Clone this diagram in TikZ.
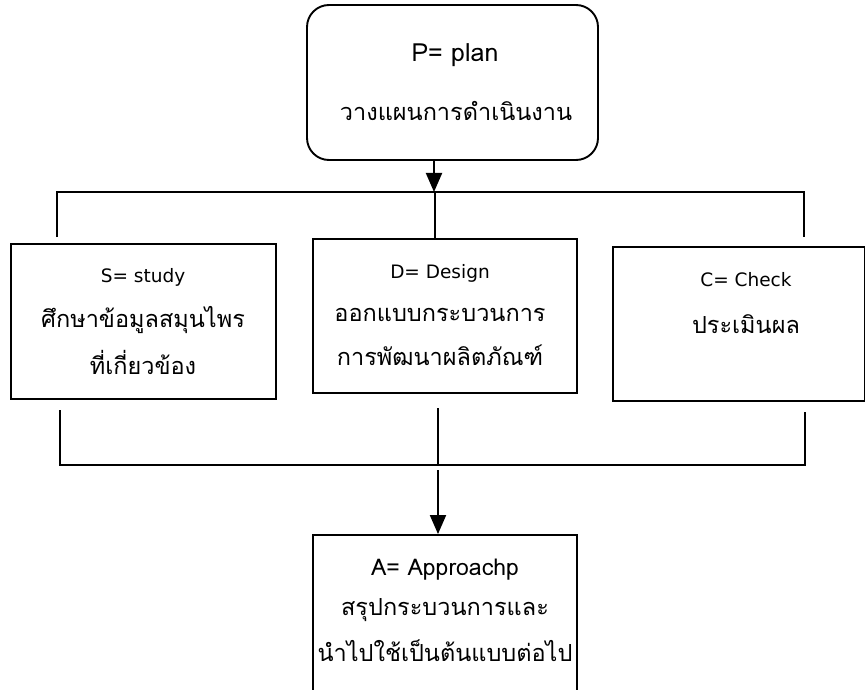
\documentclass[tikz,border=0pt]{standalone}
\usepackage{fontspec}
\newfontfamily\thaifont[Script=Thai]{Loma}
\newfontfamily\headfont{DejaVu Sans}
\usetikzlibrary{arrows.meta}
\begin{document}
\begin{tikzpicture}[x=1pt,y=-1pt,
  box/.style={draw, line width=1.9pt, inner sep=0pt},
  conn/.style={line width=1.9pt},
  arr/.style={line width=1.9pt, -{Triangle[width=16pt,length=19pt]}},
  thai/.style={font=\thaifont\fontsize{23.5}{28}\selectfont, inner sep=0pt},
  head/.style={font=\thaifont\fontsize{25}{30}\selectfont, inner sep=0pt},
  heads/.style={font=\headfont\fontsize{18.5}{22}\selectfont, inner sep=0pt}]
\useasboundingbox (0,0) rectangle (865,690);
\clip (0,0) rectangle (865,690);
% boxes
\node[box, rounded corners=22pt, minimum width=291pt, minimum height=155pt] (P) at (452.5,82.5) {};
\node[box, minimum width=265pt, minimum height=155pt] (S) at (143.5,321.5) {};
\node[box, minimum width=264pt, minimum height=154pt] (D) at (445,316) {};
\node[box, minimum width=252pt, minimum height=154pt] (C) at (739,324) {};
\node[box, minimum width=264pt, minimum height=170pt] (A) at (445,620) {};
% texts
\node[head] (ptitle) at (455,55) {P= plan};
\node[thai] (pdesc) at (456,111) {วางแผนการดำเนินงาน};
\node[heads] (stitle) at (143,277) {S= study};
\node[thai] (sdesc1) at (143,320) {ศึกษาข้อมูลสมุนไพร};
\node[thai] (sdesc2) at (143,362) {ที่เกี่ยวข้อง};
\node[heads] (dtitle) at (440,273) {D= Design};
\node[thai] (ddesc1) at (440,315) {ออกแบบกระบวนการ};
\node[thai] (ddesc2) at (440,355) {การพัฒนาผลิตภัณฑ์};
\node[heads] (ctitle) at (746,280) {C= Check};
\node[thai] (cdesc) at (746,324) {ประเมินผล};
\node[head, font=\thaifont\fontsize{23}{28}\selectfont] (atitle) at (445,570) {A= Approachp};
\node[thai] (adesc1) at (445,610) {สรุปกระบวนการและ};
\node[thai] (adesc2) at (445,651) {นำไปใช้เป็นต้นแบบต่อไป};
% junction coordinates
\coordinate (tj) at (434,192);
\coordinate (tl) at (57,192);
\coordinate (tr) at (804,192);
\coordinate (tm) at (435,192);
\coordinate (tle) at (57,237);
\coordinate (tre) at (804,237);
\coordinate (bl) at (60,465);
\coordinate (br) at (805,465);
\coordinate (bm) at (438,465);
\coordinate (bls) at (60,410);
\coordinate (bms) at (438,408);
\coordinate (brs) at (805,412);
\coordinate (as) at (438,470);
% connectors
\draw[arr] (P.south -| tj) -- (tj);
\draw[conn] (tle) -- (tl) -- (tr) -- (tre);
\draw[conn] (tm) -- (D.north -| tm);
\draw[conn] (bls) -- (bl) -- (br) -- (brs);
\draw[conn] (bms) -- (bm);
\draw[arr] (as) -- (A.north -| as);
\end{tikzpicture}
\end{document}
